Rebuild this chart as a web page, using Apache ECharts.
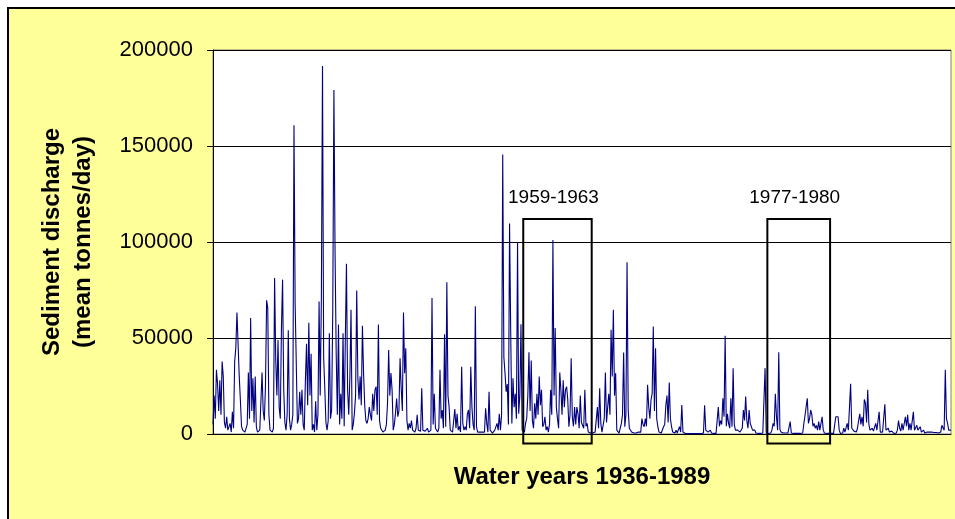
<!DOCTYPE html>
<html>
<head>
<meta charset="utf-8">
<script src="https://cdn.jsdelivr.net/npm/echarts@6/dist/echarts.min.js"></script>
<style>
  html, body { margin: 0; padding: 0; background: #fff; }
  #chart { width: 955px; height: 519px; }
</style>
</head>
<body>
<div id="chart"></div>
<script>
// mean monthly sediment discharge, thousand tonnes/day, one row per water year
var sed1936_1945 = [
  5, 20, 8, 33.4, 26, 12, 28, 10, 37.8, 30, 6, 3,           // 1936
  9, 2, 1, 5.5, 1, 11.6, 3, 37.8, 45, 63.3, 62.6, 30,       // 1937
  17.7, 4, 2, 1, 1, 1, 5, 32, 8, 60.4, 12, 29,              // 1938
  6, 30, 3.8, 1, 1, 2, 1, 32, 12, 7, 25, 69.6,              // 1939
  65.6, 10, 2, 1, 1, 3, 81.3, 38.6, 20, 49, 14, 8,          // 1940
  55.2, 80.4, 23, 6, 2, 10, 54, 8, 2, 5, 10, 160.8,         // 1941
  68.2, 68.5, 5.5, 8, 22, 10, 23, 5, 2, 28, 47, 15,         // 1942
  58, 20, 41.8, 2, 5, 1, 17, 2, 10, 69, 20, 70,             // 1943
  191.7, 40, 24, 6, 2, 7, 52.5, 8, 12.5, 64.7, 179.2, 95,   // 1944
  42, 10, 57, 5, 21, 8, 52.5, 4, 49, 88.7, 23, 10           // 1945
];
var sed1946_1955 = [
  30, 64.7, 2, 5, 11, 20, 74.8, 29, 18, 30, 15, 56.4,       // 1946
  31.7, 15, 7, 5.5, 8, 14, 10, 7, 21, 12, 23, 24.7,         // 1947
  10, 57, 7, 3, 2, 1, 1, 2, 5, 16, 43.8, 20,                // 1948
  31.7, 23, 2, 5, 11, 18.5, 9, 12, 39.5, 24, 12, 63.3,      // 1949
  31.7, 44.7, 7, 2, 5.5, 3, 7, 2, 2, 1, 3, 10,              // 1950
  2, 3, 1.5, 23.8, 2, 1, 1.5, 0.5, 3, 1, 0.5, 2,            // 1951
  70.8, 5, 21, 3, 2, 1, 3, 33.4, 8, 12.5, 3, 52,            // 1952
  3.8, 79, 20, 14, 2, 3, 1, 2, 13, 3, 10.5, 2,              // 1953
  4, 1, 35, 5.5, 2, 3.8, 2, 10.5, 12.5, 3, 35, 14,          // 1954
  5, 2, 66.5, 3.8, 1, 2, 1, 2, 1, 2, 1, 13.4                // 1955
];
var sed1956_1965 = [
  5.5, 1, 22, 2, 1, 0.5, 1, 2, 1, 5.5, 2, 10.5,             // 1956
  2, 10, 145.6, 40, 31.7, 22, 26, 5, 109.6, 52.9, 5.5, 29,  // 1957
  14, 21, 8, 99.9, 10.5, 20, 57.2, 2, 3, 1, 5.5, 8,         // 1958
  20, 42.6, 12, 38.3, 7, 3, 16, 8, 21, 10, 30, 15,          // 1959
  23, 3.8, 5, 9, 2, 3.8, 1, 5, 23, 10, 101, 20,             // 1960
  55.2, 14, 8, 3, 32, 23, 10, 28, 14, 23, 24.7, 18,         // 1961
  3.8, 10, 39.5, 9, 4, 14, 5, 14, 10.5, 3, 20, 6,           // 1962
  7, 3, 23, 4, 5.5, 1, 0.5, 0.5, 1, 0.5, 0.5, 1,            // 1963
  2, 14, 3, 23.8, 5.5, 1, 2, 8, 32, 6, 14, 21,              // 1964
  10, 54.3, 30, 64.7, 20, 31.7, 2, 1, 0.5, 1, 5.5, 10       // 1965
];
var sed1966_1975 = [
  42.5, 3.8, 10, 89.4, 12.5, 3, 2, 1, 0.5, 0.5, 1, 0.5,     // 1966
  0.5, 1, 0.5, 1, 8, 5, 3.8, 8, 4, 25.6, 14, 8,             // 1967
  17.7, 21, 56, 12, 44.7, 8, 3.8, 1, 2, 0.5, 1, 3.8,        // 1968
  5, 15, 20, 6, 26.8, 8, 3.8, 1, 0.5, 0.5, 2, 0.5,          // 1969
  1, 3.8, 1, 15.1, 1, 0.3, 0.3, 0.2, 0.2, 0.3, 0.2, 0.3,    // 1970
  0.3, 0.2, 0.2, 0.3, 0.2, 0.2, 0.3, 0.2, 0.2, 0.3, 0.5, 15, // 1971
  2, 1, 1, 1, 2, 0.5, 0.5, 0.3, 0.3, 0.3, 0.5, 14,          // 1972
  4, 7, 5, 18.6, 9, 51.2, 4, 10.5, 5.5, 3, 18.6, 3.8,       // 1973
  34.3, 5, 2, 1, 2, 1, 1, 2, 3, 12.5, 7, 19.5,              // 1974
  7, 3, 12.5, 5.5, 3.8, 2, 1, 2, 0.5, 0.3, 0.3, 0.3         // 1975
];
var sed1976_1985 = [
  0.3, 0.3, 0.5, 0.5, 34.3, 0.8, 0.5, 0.3, 0.3, 0.5, 2, 5.5, // 1976
  4, 21, 9, 2, 42.6, 2.5, 1, 0.5, 0.5, 0.3, 0.5, 0.3,        // 1977
  0.5, 1, 6.5, 0.5, 0.3, 0.3, 0.3, 0.3, 0.3, 0.3, 0.3, 0.3,  // 1978
  0.3, 0.5, 5.5, 9.5, 14.2, 18.6, 5.5, 8, 12.5, 10, 4, 5.5,  // 1979
  3, 4.5, 2, 6.5, 2, 3, 9, 2, 0.5, 0.3, 0.3, 0.3,            // 1980
  0.3, 0.3, 0.3, 0.3, 0.3, 0.3, 9, 9, 9, 2, 0.3, 0.5,        // 1981
  0.5, 3, 1, 2, 5.5, 2, 3, 26.1, 3, 2, 1.5, 2,               // 1982
  1, 3, 7, 10.5, 5, 9, 4, 18, 16, 6, 23, 5,                  // 1983
  2, 1, 3, 1.5, 1, 5.5, 2, 2, 11.6, 1, 0.5, 1,               // 1984
  2, 15.5, 2, 1, 3, 1, 0.5, 1.5, 0.5, 0.3, 0.3, 0.5          // 1985
];
var sed1986_1989 = [
  2, 7, 3, 1.5, 5.5, 2, 3, 9, 4, 10, 2, 5.5,                 // 1986
  2, 3, 11.6, 2, 1.5, 4.5, 2, 1.5, 3.8, 1, 0.5, 2,           // 1987
  0.5, 1, 1, 1, 1, 1.2, 1, 1, 0.8, 1, 0.8, 0.5,              // 1988
  0.5, 0.5, 1, 4.5, 3.8, 2, 33.4, 8, 5.5, 2, 1, 2            // 1989
];

var yTicks = [0, 50000, 100000, 150000, 200000];

// highlighted periods: month index range and value range of each box
var boxLabels = ['1959-1963', '1977-1980'];
var boxStart = [272, 486];
var boxEnd = [332, 541];
var boxTop = 112000;
var boxBottom = -5000;

var firstYear = 1936;
var lastYear = 1989;

var sediment = [].concat(sed1936_1945, sed1946_1955, sed1956_1965,
  sed1966_1975, sed1976_1985, sed1986_1989).map(function (v) { return v * 1000; });

var months = [];
for (var yr = firstYear; yr <= lastYear; yr++) {
  for (var m = 1; m <= 12; m++) {
    months.push(yr + '-' + (m < 10 ? '0' + m : m));
  }
}

var font = '"Liberation Sans", Arial, sans-serif';

var dom = document.getElementById('chart');
var myChart = echarts.init(dom, null, { renderer: 'canvas' });

var option = {
  animation: false,
  backgroundColor: '#fff',
  textStyle: { fontFamily: font },
  grid: {
    left: 213,
    right: 4,
    top: 50,
    bottom: 85,
    show: true,
    backgroundColor: '#fff',
    borderColor: '#808080',
    borderWidth: 1
  },
  xAxis: {
    type: 'category',
    data: months,
    boundaryGap: false,
    name: 'Water years ' + firstYear + '-' + lastYear,
    nameLocation: 'middle',
    nameGap: 31,
    nameTextStyle: { fontSize: 24, fontWeight: 'bold', color: '#000', fontFamily: font },
    axisLine: { lineStyle: { color: '#000', width: 1 } },
    axisTick: { show: false },
    axisLabel: { show: false },
    splitLine: { show: false }
  },
  yAxis: {
    type: 'value',
    min: yTicks[0],
    max: yTicks[yTicks.length - 1],
    interval: yTicks[1] - yTicks[0],
    axisLine: { show: true, lineStyle: { color: '#000', width: 1 } },
    axisTick: { show: true, inside: false, length: 6, lineStyle: { color: '#000' } },
    axisLabel: {
      margin: 20,
      fontSize: 22,
      color: '#000',
      fontFamily: font,
      formatter: function (v) { return String(v); }
    },
    splitLine: { lineStyle: { color: '#000', width: 1 } }
  },
  series: [
    {
      name: 'Sediment discharge',
      type: 'line',
      data: sediment,
      symbol: 'none',
      clip: false,
      lineStyle: { color: '#000080', width: 1.1 }
    }
  ]
};

myChart.setOption(option);

// frame, y-axis title and the two highlighted period boxes
var graphics = [
  {
    type: 'rect',
    z: -10,
    silent: true,
    shape: { x: 8, y: 8, width: 960, height: 530 },
    style: { fill: '#FFFF99', stroke: '#000', lineWidth: 2 }
  },
  {
    type: 'text',
    x: 68,
    y: 242,
    rotation: Math.PI / 2,
    style: {
      text: 'Sediment discharge\n(mean tonnes/day)',
      font: 'bold 24px ' + font,
      fill: '#000',
      textAlign: 'center',
      textVerticalAlign: 'middle',
      lineHeight: 31
    }
  }
];

for (var i = 0; i < boxLabels.length; i++) {
  var p0 = myChart.convertToPixel({ gridIndex: 0 }, [boxStart[i], boxTop]);
  var p1 = myChart.convertToPixel({ gridIndex: 0 }, [boxEnd[i], boxBottom]);
  graphics.push({
    type: 'rect',
    z: 100,
    shape: { x: p0[0], y: p0[1], width: p1[0] - p0[0], height: p1[1] - p0[1] },
    style: { fill: null, stroke: '#000', lineWidth: 2 }
  });
  graphics.push({
    type: 'text',
    z: 100,
    x: (p0[0] + p1[0]) / 2 - 4,
    y: p0[1] - 12,
    style: {
      text: boxLabels[i],
      font: '19px ' + font,
      fill: '#000',
      textAlign: 'center',
      textVerticalAlign: 'bottom'
    }
  });
}

myChart.setOption({ graphic: graphics });

window.addEventListener('resize', myChart.resize);
</script>
</body>
</html>
